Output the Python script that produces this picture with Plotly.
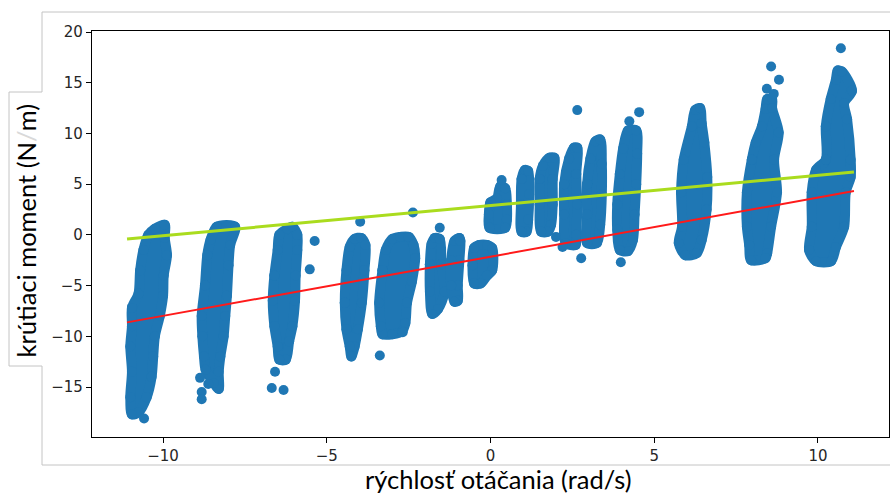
import plotly.graph_objects as go

# ---------------- data ----------------
# outline points (dot centres) of the dense clouds, one pair of lists per speed step
xA = [-10.95, -11.0, -10.95, -11.0, -10.95, -10.95, -10.75, -10.7, -10.6, -10.45, -10.25,
      -9.95, -9.95, -9.88, -9.98, -10.0, -10.1, -10.25, -10.3, -10.35, -10.5, -10.75]
yA = [-17.7, -16.0, -13.5, -11.0, -9.0, -7.2, -5.8, -3.5, -1.5, 0.0, 0.6,
      1.0, -0.3, -2.0, -4.0, -6.0, -8.0, -10.0, -12.0, -14.0, -16.0, -17.5]

xB = [-8.7, -8.75, -8.8, -8.82, -8.72, -8.65, -8.55, -8.36,
      -7.8, -7.95, -8.0, -8.05, -8.1, -8.15, -8.25, -8.3, -8.3, -8.45]
yB = [-13.3, -12.0, -10.0, -8.0, -5.0, -2.0, -0.5, 0.8,
      0.8, -1.0, -3.0, -6.0, -8.0, -10.0, -12.0, -13.5, -15.2, -14.6]

xC = [-6.45, -6.5, -6.6, -6.65, -6.6, -6.5, -6.45, -6.2,
      -6.05, -5.9, -5.9, -5.95, -5.97, -6.05, -6.15, -6.25]
yC = [-12.3, -11.0, -9.0, -6.5, -4.0, -1.5, 0.0, 0.6,
      0.8, 0.0, -1.5, -4.0, -6.5, -9.0, -10.5, -12.3]

xD = [-4.25, -4.3, -4.4, -4.45, -4.4, -4.3, -4.15,
      -3.95, -3.82, -3.85, -3.93, -4.05, -4.15]
yD = [-12.0, -11.0, -9.3, -6.7, -3.5, -1.2, -0.4,
      -0.3, -1.0, -3.5, -6.7, -9.3, -11.0]

xE = [-3.3, -3.35, -3.4, -3.3, -3.2, -3.0, -2.75, -2.5,
      -2.35, -2.3, -2.4, -2.55, -2.6, -2.7, -3.0]
yE = [-9.8, -9.0, -6.7, -3.5, -1.5, -0.4, -0.2, -0.2,
      -1.0, -2.3, -4.6, -6.7, -8.7, -9.5, -9.8]

xF = [-1.78, -1.85, -1.85, -1.8, -1.7, -1.55, -1.5, -1.4, -1.6]
yF = [-7.8, -5.6, -2.9, -0.9, -0.3, -0.4, -2.9, -5.6, -7.3]

xG = [-1.1, -1.2, -1.2, -1.1, -0.95, -0.92, -0.95, -1.0, -1.0]
yG = [-6.6, -5.0, -2.5, -0.6, -0.3, -0.6, -2.5, -5.0, -6.5]

xH = [-0.5, -0.55, -0.5, -0.35, -0.1, 0.05, 0.05, -0.1, -0.3]
yH = [-4.8, -3.0, -1.3, -1.0, -1.0, -1.3, -3.5, -4.0, -4.8]

xI = [-0.03, -0.05, 0.0, 0.2, 0.3, 0.45, 0.5, 0.5, 0.45]
yI = [0.7, 2.0, 3.2, 3.6, 4.8, 4.6, 3.0, 1.5, 0.7]

xJ = [0.95, 0.93, 0.95, 1.05, 1.15, 1.18, 1.15, 1.1]
yJ = [0.3, 3.0, 5.5, 6.4, 6.3, 4.0, 1.5, 0.3]

xK = [1.55, 1.5, 1.5, 1.6, 1.8, 1.95, 1.9, 1.9, 1.85, 1.75]
yK = [0.3, 3.0, 5.5, 6.8, 7.6, 7.6, 5.5, 3.0, 1.0, 0.3]

xL = [2.3, 2.25, 2.25, 2.4, 2.55, 2.65, 2.62, 2.65, 2.62, 2.6]
yL = [-0.8, 2.0, 5.0, 7.5, 8.6, 8.6, 6.0, 3.0, 0.0, -1.0]

xM = [2.95, 2.95, 2.95, 3.05, 3.2, 3.35, 3.4, 3.4, 3.35, 3.25]
yM = [-0.8, 2.0, 5.0, 7.5, 9.2, 9.4, 7.0, 4.0, 1.0, -0.8]

xN = [3.95, 3.87, 3.87, 3.95, 4.05, 4.2, 4.45, 4.48, 4.45, 4.4, 4.35, 4.2]
yN = [-1.5, 0.5, 3.0, 6.0, 8.5, 10.3, 10.3, 8.0, 5.0, 2.0, -0.5, -1.6]

xO = [5.95, 5.75, 5.85, 5.82, 5.9, 6.15, 6.25, 6.4, 6.45, 6.53, 6.62, 6.6, 6.45, 6.3]
yO = [-2.0, -0.8, 0.8, 4.2, 7.4, 10.7, 12.3, 12.5, 11.0, 9.1, 5.7, 2.5, -0.5, -1.8]

xP = [7.96, 7.9, 7.83, 7.83, 7.98, 8.1, 8.29, 8.4, 8.45,
      8.6, 8.6, 8.8, 8.66, 8.75, 8.57, 8.45, 8.4]
yP = [-2.5, -1.0, 0.8, 4.2, 7.4, 9.1, 10.7, 12.4, 13.4,
      13.4, 12.5, 10.1, 7.4, 4.2, 0.8, -1.8, -2.3]

xQ = [9.94, 9.73, 9.81, 9.81, 9.94, 10.24, 10.24, 10.39, 10.55, 10.6,
      10.73, 11.04, 10.8, 10.89, 11.0, 11.0, 10.85, 10.8, 10.55, 10.4]
yQ = [-2.6, -1.5, 0.8, 4.2, 6.4, 7.4, 10.7, 13.4, 15.3, 16.2,
      16.1, 14.2, 13.0, 11.4, 7.4, 5.7, 4.2, 0.8, -1.2, -2.6]

# isolated measurements around the clouds
out_x = [-10.58, -8.87, -8.82, -8.82, -8.62, -6.58, -6.68, -6.32, -5.37, -5.52,
         -3.98, -3.38, -2.37, -2.68, -1.55, 0.34, 2.65, 2.0, 2.2, 2.77,
         4.54, 4.24, 3.98, 8.57, 8.81, 8.44, 8.65, 10.7]
out_y = [-18.1, -14.1, -15.5, -16.2, -14.7, -13.5, -15.1, -15.3, -0.6, -3.4,
         1.3, -11.9, 2.2, -9.6, 0.7, 5.4, 12.3, -0.2, -1.2, -2.3,
         12.1, 11.2, -2.7, 16.6, 15.3, 14.4, 13.9, 18.4]

# fitted lines
fit_x = [-11.1, 11.1]
green_y = [-0.41, 6.19]
red_y = [-8.63, 4.32]

x_ticks = [-10, -5, 0, 5, 10]
y_ticks = [-15, -10, -5, 0, 5, 10, 15, 20]

x_title = "rýchlosť otáčania (rad/s)"
y_title = "krútiaci moment (N<span style='color:#d9d9d9'>/</span>m)"

clusters = [(xA, yA), (xB, yB), (xC, yC), (xD, yD), (xE, yE), (xF, yF), (xG, yG),
            (xH, yH), (xI, yI), (xJ, yJ), (xK, yK), (xL, yL), (xM, yM), (xN, yN),
            (xO, yO), (xP, yP), (xQ, yQ)]

# ---------------- figure ----------------
BLUE = "#1f77b4"
fig = go.Figure()
for cx, cy in clusters:
    k = len(cx) // 4            # start the closed outline on a flat side
    ox = cx[k:] + cx[:k + 1]
    oy = cy[k:] + cy[:k + 1]
    fig.add_trace(go.Scatter(
        x=ox, y=oy, mode="lines+markers", fill="toself",
        fillcolor=BLUE, line=dict(color=BLUE, width=10, shape="spline", smoothing=0.8),
        marker=dict(size=10, color=BLUE), hoverinfo="skip", showlegend=False))

fig.add_trace(go.Scatter(x=out_x, y=out_y, mode="markers",
                         marker=dict(size=10, color=BLUE), showlegend=False))
fig.add_trace(go.Scatter(x=fit_x, y=red_y, mode="lines",
                         line=dict(color="#ff1a1a", width=2), showlegend=False))
fig.add_trace(go.Scatter(x=fit_x, y=green_y, mode="lines",
                         line=dict(color="#aadc1e", width=3), showlegend=False))

W, H = 890, 495
L, R, T, B = 92, 889, 31, 437


def px(v):
    return (v - L) / (R - L)


def py(v):
    return (B - v) / (B - T)


GRAY = "#c4c4c4"
shapes = []
for (x0, y0, x1, y1) in [(42, 12, 890, 12), (42, 12, 42, 92), (42, 92, 9, 92),
                         (9, 92, 9, 366), (9, 366, 42, 366), (42, 366, 42, 465),
                         (42, 465, 890, 465)]:
    shapes.append(dict(type="line", xref="paper", yref="paper",
                       x0=px(x0), y0=py(y0), x1=px(x1), y1=py(y1),
                       line=dict(color=GRAY, width=1), layer="below"))

axis_common = dict(showgrid=False, zeroline=False, showline=True, mirror=True,
                   linecolor="black", linewidth=1.2, ticks="outside", ticklen=5,
                   tickwidth=1.2, tickcolor="black",
                   tickfont=dict(family="DejaVu Sans", size=15, color="#262626"))

fig.update_layout(
    width=W, height=H, autosize=False,
    margin=dict(l=L, r=W - R, t=T, b=H - B, pad=0),
    paper_bgcolor="white", plot_bgcolor="white",
    showlegend=False,
    xaxis=dict(range=[-12.17, 12.17], tickvals=x_ticks, **axis_common),
    yaxis=dict(range=[-19.93, 20.1], tickvals=y_ticks, **axis_common),
    shapes=shapes,
    annotations=[
        dict(text=x_title, xref="paper", yref="paper", x=px(499), y=py(479),
             xanchor="center", yanchor="middle", showarrow=False,
             font=dict(family="Lato", size=25.5, color="black")),
        dict(text=y_title, xref="paper", yref="paper", x=px(25), y=py(230.5),
             xanchor="center", yanchor="middle", showarrow=False, textangle=-90,
             font=dict(family="Lato", size=25.5, color="black")),
    ],
)

fig.write_html("out.html", default_width="890px", default_height="495px",
               config={"responsive": False, "displayModeBar": False},
               post_script="document.body.style.margin='0px';document.body.style.overflow='hidden';")
